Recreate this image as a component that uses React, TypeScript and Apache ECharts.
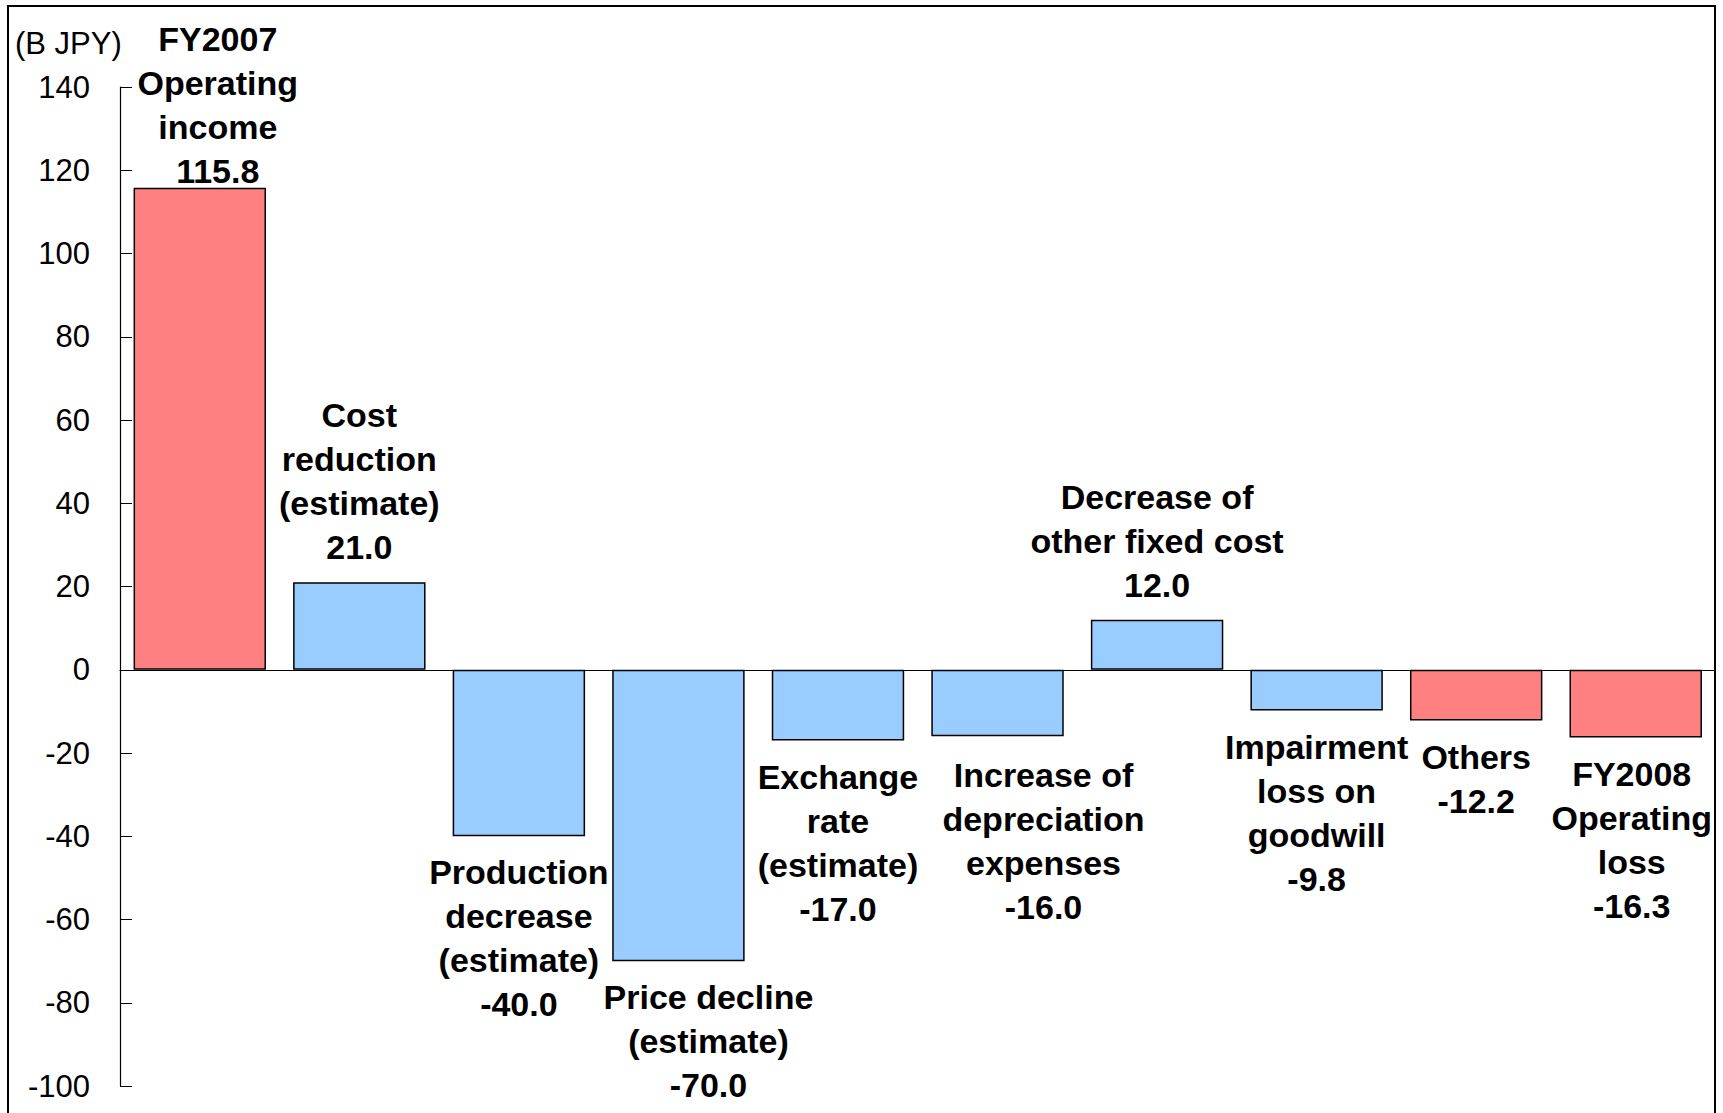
import React, { useEffect, useRef } from "react";
import * as echarts from "echarts";

const categories = [
  "FY2007 Operating income",
  "Cost reduction (estimate)",
  "Production decrease (estimate)",
  "Price decline (estimate)",
  "Exchange rate (estimate)",
  "Increase of depreciation expenses",
  "Decrease of other fixed cost",
  "Impairment loss on goodwill",
  "Others",
  "FY2008 Operating loss",
];
const labelLines = [
  ["FY2007", "Operating", "income"],
  ["Cost", "reduction", "(estimate)"],
  ["Production", "decrease", "(estimate)"],
  ["Price decline", "(estimate)"],
  ["Exchange", "rate", "(estimate)"],
  ["Increase of", "depreciation", "expenses"],
  ["Decrease of", "other fixed cost"],
  ["Impairment", "loss on", "goodwill"],
  ["Others"],
  ["FY2008", "Operating", "loss"],
];
const values = [115.8, 21.0, -40.0, -70.0, -17.0, -16.0, 12.0, -9.8, -12.2, -16.3];
const yTicks = { min: -100, max: 140, interval: 20 };
const unitLabel = "(B JPY)";

// styling
const RED = "#FF8080";
const BLUE = "#99CCFF";
const redBars = [0, 8, 9];
const labelOffsetX = [18, 0, 0, 30, 0, 46, 0, 0, 0, -4];
const labelDistance = [-5, 13, 14, 14, 14, 17, 13, 14, 14, 14];

export default function App() {
  const ref = useRef<HTMLDivElement>(null);
  useEffect(() => {
    document.body.style.margin = "0";
    const chart = echarts.init(ref.current!, null, { renderer: "svg" });
    const axisFont = "'Liberation Sans Narrow', 'Liberation Sans', Arial, sans-serif";
    const bold = "'Liberation Sans', Arial, sans-serif";
    chart.setOption({
      animation: false,
      backgroundColor: "#ffffff",
      grid: { left: 120, right: 7.5, top: 87, bottom: 27, containLabel: false },
      xAxis: {
        type: "category",
        data: categories,
        axisLine: { lineStyle: { color: "#000", width: 1.2 } },
        axisTick: { inside: true, length: 12, lineStyle: { color: "#000" } },
        axisLabel: { show: false },
        splitLine: { show: false },
      },
      yAxis: {
        type: "value",
        min: yTicks.min,
        max: yTicks.max,
        interval: yTicks.interval,
        axisLine: { show: true, lineStyle: { color: "#000", width: 1.2 } },
        axisTick: { show: true, inside: true, length: 12, lineStyle: { color: "#000" } },
        axisLabel: { color: "#000", fontFamily: axisFont, fontSize: 31, margin: 30 },
        splitLine: { show: false },
      },
      graphic: [
        {
          type: "rect",
          shape: { x: 8, y: 6, width: 1707, height: 1130 },
          style: { fill: "none", stroke: "#000", lineWidth: 2 },
          silent: true,
        },
        {
          type: "text",
          x: 15,
          y: 43,
          style: {
            text: unitLabel,
            font: `31px ${axisFont}`,
            fill: "#000",
            textVerticalAlign: "middle",
          },
        },
      ],
      series: [
        {
          type: "bar",
          barCategoryGap: "17%",
          data: values.map((v, i) => ({
            value: v,
            itemStyle: {
              color: redBars.includes(i) ? RED : BLUE,
              borderColor: "#000",
              borderWidth: 1.5,
            },
            label: {
              show: true,
              position: v >= 0 ? "top" : "bottom",
              distance: labelDistance[i],
              offset: [labelOffsetX[i], 0],
            },
          })),
          label: {
            show: true,
            color: "#000",
            fontFamily: bold,
            fontWeight: "bold",
            fontSize: 34,
            lineHeight: 44,
            align: "center",
            formatter: (p: any) =>
              labelLines[p.dataIndex].join("\n") + "\n" + Number(p.value).toFixed(1),
          },
        },
      ],
    });
    return () => chart.dispose();
  }, []);
  return <div ref={ref} style={{ width: 1723, height: 1113 }} />;
}
